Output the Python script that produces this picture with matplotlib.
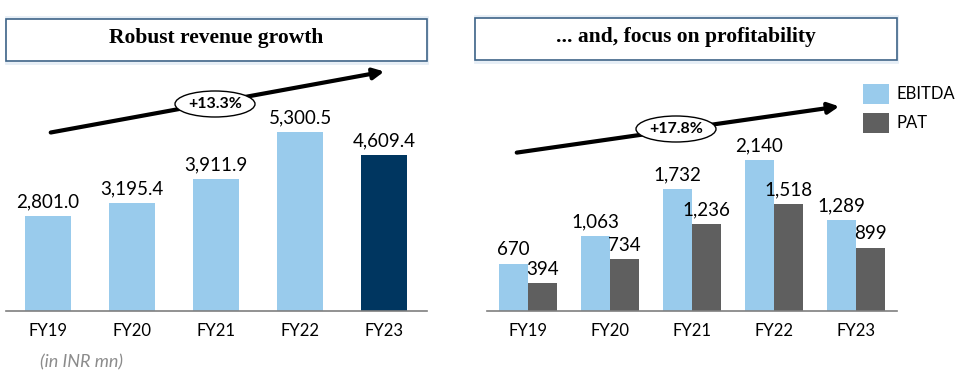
import matplotlib.pyplot as plt
import numpy as np
from matplotlib.patches import Rectangle, Ellipse, FancyArrowPatch

years = ['FY19', 'FY20', 'FY21', 'FY22', 'FY23']
revenue = [2801.0, 3195.4, 3911.9, 5300.5, 4609.4]
ebitda = [670, 1063, 1732, 2140, 1289]
pat = [394, 734, 1236, 1518, 899]
revenue_cagr = '+13.3%'
profit_cagr = '+17.8%'

W, H = 960, 379
LIGHT = '#99cbec'
NAVY = '#003660'
GREY = '#5f5f5f'
LABEL_FONT = ['Lato', 'DejaVu Sans']

plt.rcParams['font.family'] = LABEL_FONT

fig = plt.figure(figsize=(W / 100, H / 100), dpi=100)


def fx(px):
    return px / W


def fy(py):
    return 1 - py / H


def px_axes(x0, x1, y_top, y_base):
    return fig.add_axes([fx(x0), fy(y_base), fx(x1) - fx(x0), fy(y_top) - fy(y_base)])


def style_axes(ax):
    for s in ['top', 'right', 'left']:
        ax.spines[s].set_visible(False)
    ax.spines['bottom'].set_color('#7f7f7f')
    ax.spines['bottom'].set_linewidth(1.2)
    ax.set_yticks([])
    ax.tick_params(axis='x', length=0, pad=9, labelsize=12)


def title_box(x0, x1, y0, y1, text):
    # faint glow around the box
    glow = Rectangle((fx(x0), fy(y1) - 0.006), fx(x1) - fx(x0),
                     fy(y0) - fy(y1) + 0.012, transform=fig.transFigure,
                     facecolor='none', edgecolor='#e6eef6', lw=2, zorder=1)
    fig.patches.append(glow)
    box = Rectangle((fx(x0), fy(y1)), fx(x1) - fx(x0), fy(y0) - fy(y1),
                    transform=fig.transFigure, facecolor='white',
                    edgecolor='#3e6488', lw=1.2, zorder=2)
    fig.patches.append(box)
    fig.text(fx((x0 + x1) / 2), fy((y0 + y1) / 2) + 0.004, text, ha='center', va='center',
             fontsize=15.5, fontweight='bold', family=['Liberation Serif', 'DejaVu Serif'],
             zorder=3)


def growth_arrow(start, end, centre, label):
    arr = FancyArrowPatch((fx(start[0]), fy(start[1])), (fx(end[0]), fy(end[1])),
                          transform=fig.transFigure, arrowstyle='-|>',
                          mutation_scale=16, lw=3, color='black', zorder=4)
    fig.patches.append(arr)
    ell = Ellipse((fx(centre[0]), fy(centre[1])), fx(80), 26 / H,
                  transform=fig.transFigure, facecolor='white', edgecolor='black',
                  lw=1, zorder=5)
    fig.patches.append(ell)
    fig.text(fx(centre[0]), fy(centre[1]), label, ha='center', va='center',
             fontsize=11.5, fontweight='bold', zorder=6)


# left panel: revenue
ax1 = px_axes(6, 427, 60, 311)
x = np.arange(len(years))
colors = [LIGHT] * (len(years) - 1) + [NAVY]
bars = ax1.bar(x, revenue, width=0.55, color=colors)
ax1.set_xlim(-0.5, 4.51)
ax1.set_ylim(0, 251 / 0.0338)
ax1.set_xticks(x)
ax1.set_xticklabels(years)
style_axes(ax1)
for b, v in zip(bars, revenue):
    ax1.annotate(f'{v:,.1f}', (b.get_x() + b.get_width() / 2, v), xytext=(0, 4),
                 textcoords='offset points', ha='center', va='bottom', fontsize=13.5)

# right panel: EBITDA and PAT
ax2 = px_axes(487, 897, 60, 311)
w = 0.354
b1 = ax2.bar(x - w / 2, ebitda, width=w, color=LIGHT, label='EBITDA')
b2 = ax2.bar(x + w / 2, pat, width=w, color=GREY, label='PAT')
ax2.set_xlim(-0.5, 4.5)
ax2.set_ylim(0, 251 / 0.0706)
ax2.set_xticks(x)
ax2.set_xticklabels(years)
style_axes(ax2)
for group, vals in [(b1, ebitda), (b2, pat)]:
    for b, v in zip(group, vals):
        ax2.annotate(f'{v:,}', (b.get_x() + b.get_width() / 2, v), xytext=(0, 4),
                     textcoords='offset points', ha='center', va='bottom',
                     fontsize=13.5)

# legend
for i, (lab, c) in enumerate([('EBITDA', LIGHT), ('PAT', GREY)]):
    y0 = 84 + i * 29
    fig.patches.append(Rectangle((fx(863), fy(y0 + 20)), fx(26), 20 / H,
                                 transform=fig.transFigure, facecolor=c, lw=0))
    fig.text(fx(897), fy(y0 + 10), lab, ha='left', va='center', fontsize=12)

title_box(6, 427, 19, 61, 'Robust revenue growth')
title_box(475, 897, 18, 60, '... and, focus on profitability')

growth_arrow((48, 133), (387, 71), (215, 104), revenue_cagr)
growth_arrow((514, 153), (842, 106), (676, 129), profit_cagr)

fig.text(fx(40), fy(362), '(in INR mn)', ha='left', va='center', fontsize=13,
         style='italic', color='#8c8c8c')

fig.savefig('out.png', dpi=100)
